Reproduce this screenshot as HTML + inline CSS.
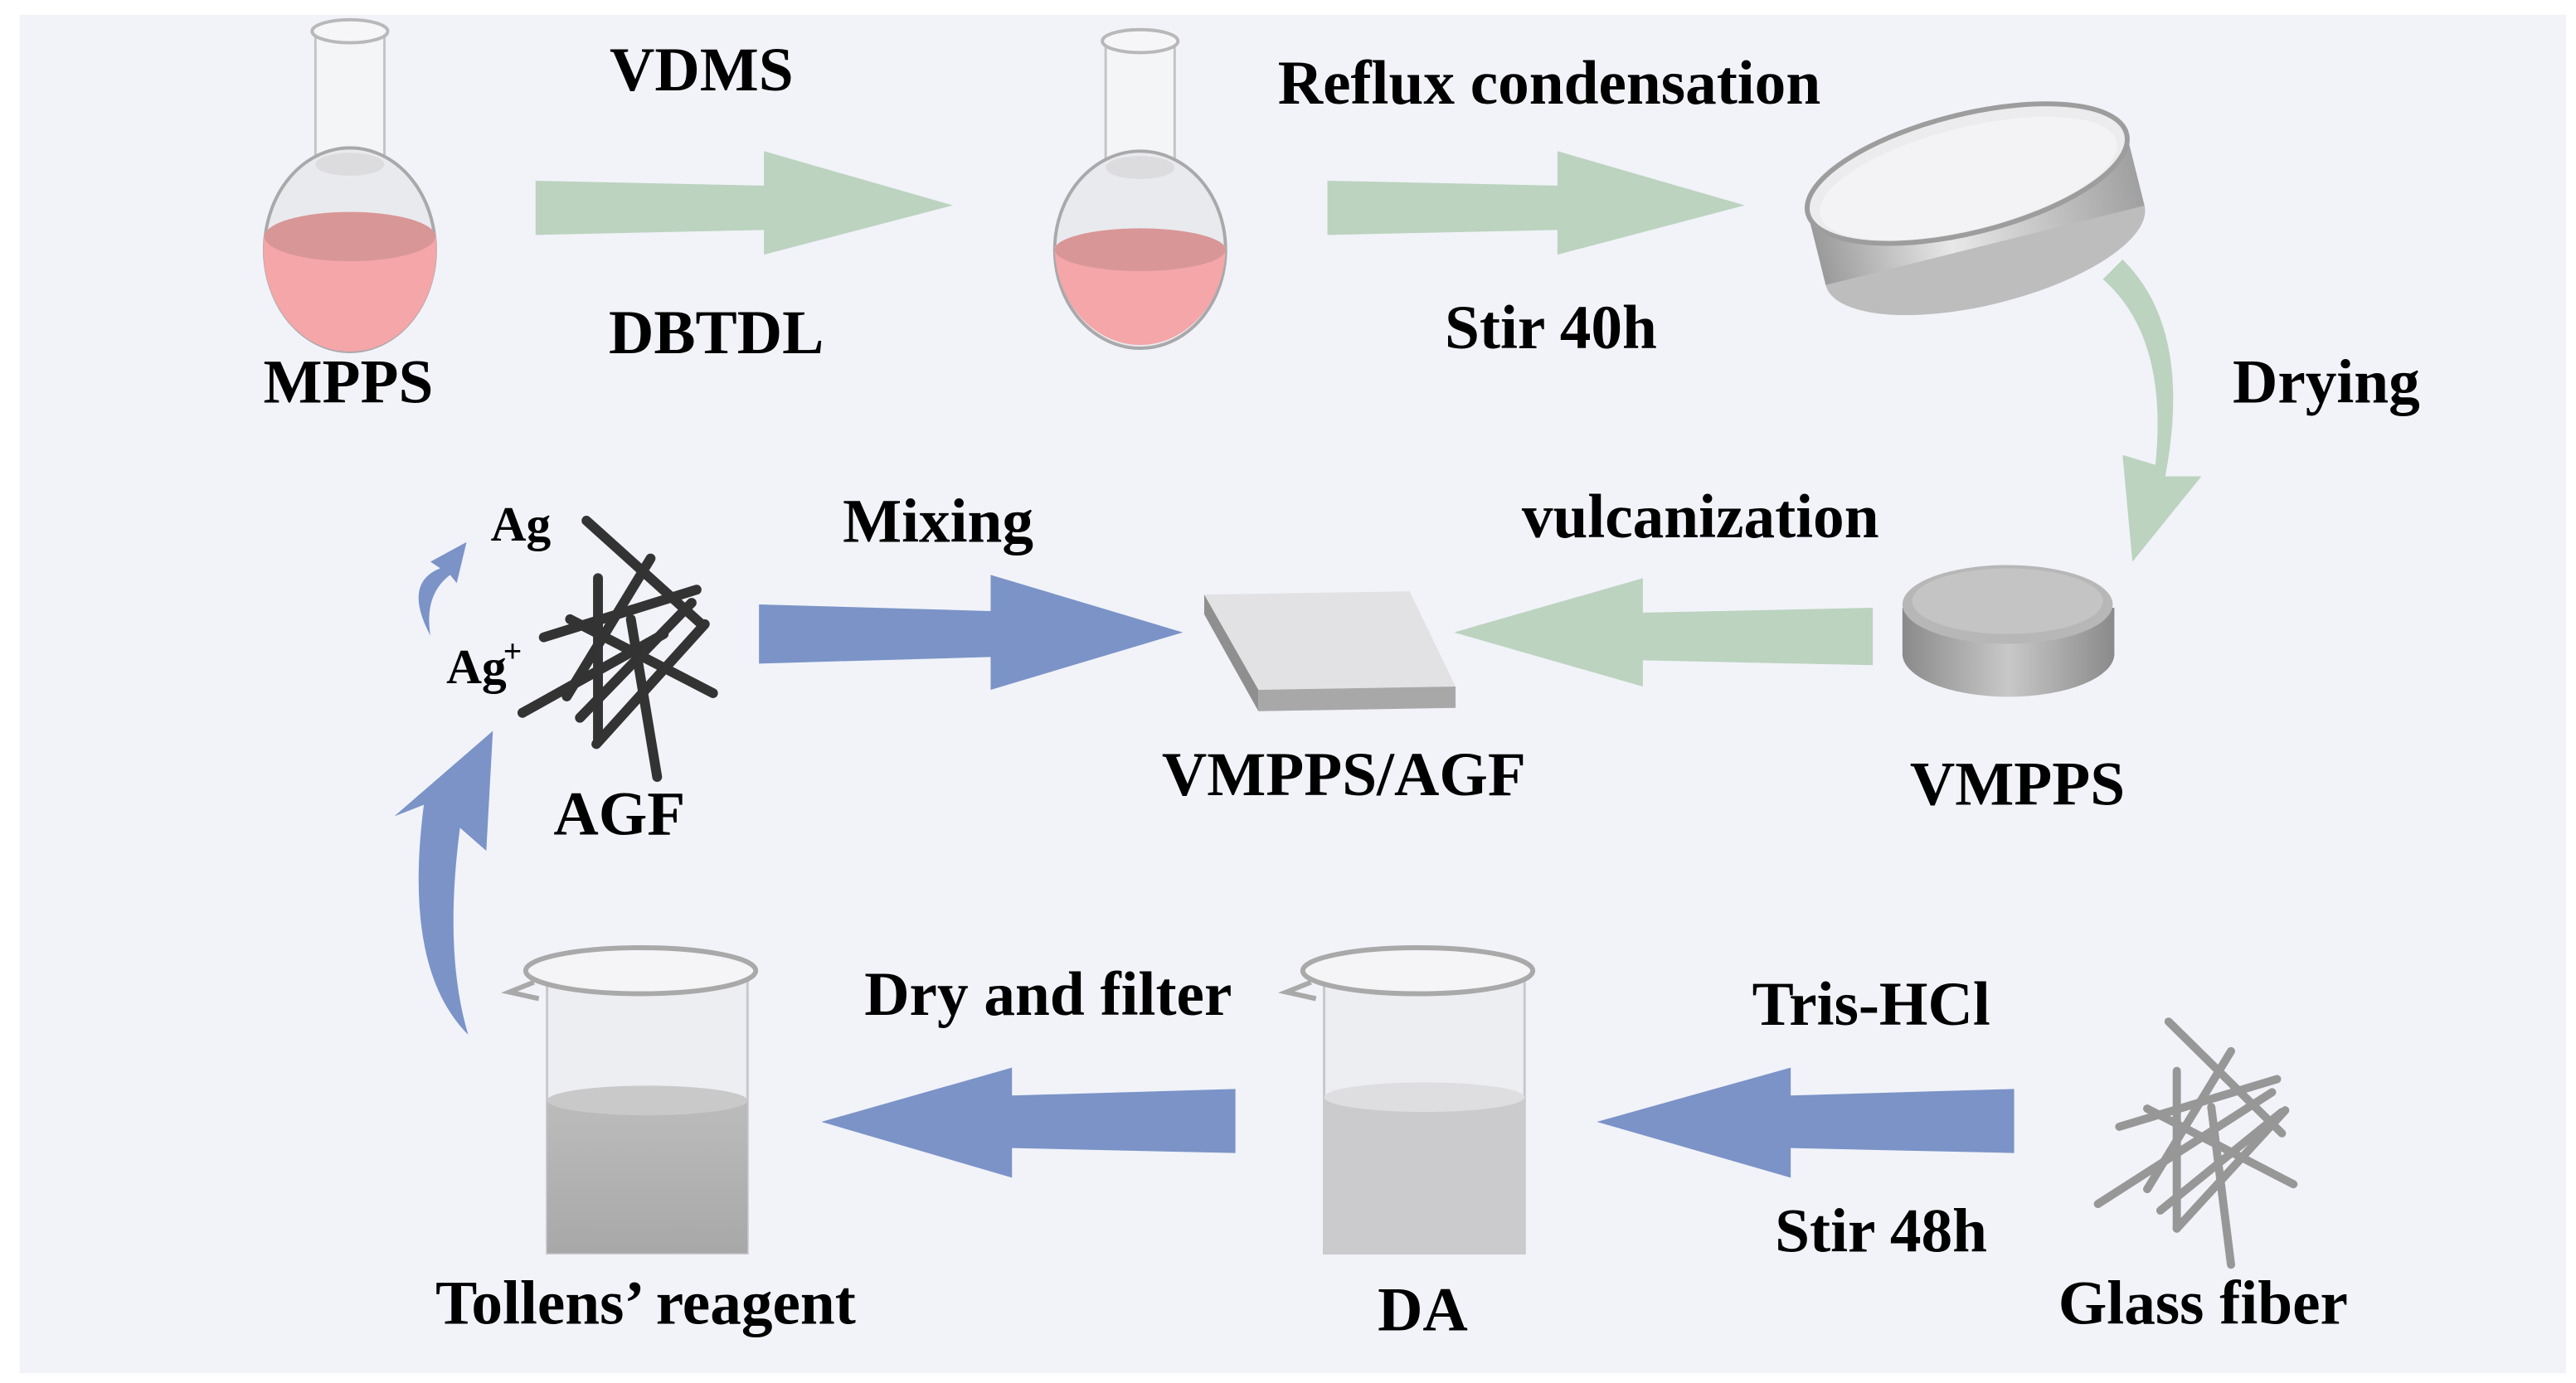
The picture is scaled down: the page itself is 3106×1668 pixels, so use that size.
<!DOCTYPE html>
<html><head><meta charset="utf-8"><style>
html,body{margin:0;padding:0;background:#fff;}
svg{display:block;}
text{font-family:"Liberation Serif",serif;font-weight:bold;fill:#000;}
</style></head><body>
<svg width="3106" height="1668" viewBox="0 0 1568 842" xmlns="http://www.w3.org/2000/svg">
<defs>
<linearGradient id="metal" x1="0" x2="1"><stop offset="0" stop-color="#9a9a9a"/><stop offset="0.4" stop-color="#e8e8e8"/><stop offset="1" stop-color="#a0a0a0"/></linearGradient>
<linearGradient id="disk" x1="0" x2="1"><stop offset="0" stop-color="#8a8a8a"/><stop offset="0.5" stop-color="#c8c8c8"/><stop offset="1" stop-color="#8a8a8a"/></linearGradient>
<linearGradient id="liq" x1="0" x2="0" y1="0" y2="1"><stop offset="0" stop-color="#bdbdbd"/><stop offset="1" stop-color="#a8a8a8"/></linearGradient>
</defs>
<rect x="0" y="0" width="1568" height="842" fill="#ffffff"/>
<rect x="12" y="9" width="1550" height="827" fill="#f1f3f9"/>

<!-- Flask 1 -->
<g>
<rect x="192" y="18" width="42" height="82" fill="#f4f5f7" stroke="#c4c4c6" stroke-width="1.5"/>
<ellipse cx="213" cy="19" rx="23" ry="7" fill="#f6f6f8" stroke="#b8b8ba" stroke-width="2"/>
<ellipse cx="213" cy="152" rx="52" ry="62" fill="#e9eaee" stroke="#a9a9ab" stroke-width="2"/>
<path d="M161,142 A52,62 0 0 0 265,142 Z" fill="#f4a6a8"/>
<path d="M161,142 A52,62 0 0 0 213,214 A52,62 0 0 0 265,142" fill="#f4a6a8"/>
<ellipse cx="213" cy="144" rx="52" ry="15" fill="#d99696"/>
<ellipse cx="213" cy="100" rx="21" ry="7" fill="#dcdcde"/>
</g>
<text x="212" y="245" font-size="38" text-anchor="middle">MPPS</text>

<!-- Flask 2 -->
<g>
<rect x="673" y="24" width="42" height="78" fill="#f4f5f7" stroke="#c4c4c6" stroke-width="1.5"/>
<ellipse cx="694" cy="25" rx="23" ry="7" fill="#f6f6f8" stroke="#b8b8ba" stroke-width="2"/>
<ellipse cx="694" cy="152" rx="52" ry="60" fill="#e9eaee" stroke="#a9a9ab" stroke-width="2"/>
<path d="M642,150 A52,60 0 0 0 746,150 Z" fill="#f4a6a8"/>
<ellipse cx="694" cy="152" rx="52" ry="13" fill="#d99696"/>
<ellipse cx="694" cy="102" rx="21" ry="7" fill="#dcdcde"/>
</g>

<!-- Green arrows top -->
<polygon points="326,110 465,113 465,92 580,125 465,155 465,140 326,143" fill="#bcd3bf"/>
<polygon points="808,110 948,113 948,92 1062,125 948,155 948,140 808,143" fill="#bcd3bf"/>
<text x="427" y="55" font-size="38" text-anchor="middle">VDMS</text>
<text x="436" y="215" font-size="38" text-anchor="middle">DBTDL</text>
<text x="943" y="63" font-size="38" text-anchor="middle">Reflux condensation</text>
<text x="944" y="212" font-size="38" text-anchor="middle">Stir 40h</text>

<!-- Petri dish -->
<g transform="rotate(-14 1203 128)">
<ellipse cx="1203" cy="150" rx="100" ry="36" fill="#bdbdbd"/>
<rect x="1103" y="105" width="200" height="45" fill="url(#metal)"/>
<ellipse cx="1203" cy="105" rx="100" ry="36" fill="#ececee" stroke="#9d9d9d" stroke-width="3"/>
<ellipse cx="1203" cy="108" rx="93" ry="31" fill="#f3f3f5"/>
</g>

<!-- Drying arrow -->
<path d="M1292,158 Q1335,200 1318,290 L1340,290 L1298,342 L1292,277 L1312,283 Q1320,205 1280,170 Z" fill="#bcd3bf"/>
<text x="1416" y="245" font-size="38" text-anchor="middle">Drying</text>

<!-- VMPPS disk -->
<g>
<path d="M1158,370 L1158,398 A64,26 0 0 0 1287,398 L1287,370 Z" fill="url(#disk)"/>
<ellipse cx="1222" cy="368" rx="64" ry="24" fill="#b7b7b7"/>
<ellipse cx="1222" cy="366" rx="58" ry="20" fill="#c4c4c4"/>
</g>
<text x="1228" y="490" font-size="38" text-anchor="middle">VMPPS</text>

<!-- vulcanization arrow -->
<polygon points="1140,370 1000,373 1000,352 885,385 1000,418 1000,402 1140,405" fill="#bcd3bf"/>
<text x="1035" y="327" font-size="38" text-anchor="middle">vulcanization</text>

<!-- Slab -->
<polygon points="733,362 858,360 886,418 766,420" fill="#e2e2e4"/>
<polygon points="733,362 766,420 766,433 733,374" fill="#8f8f8f"/>
<polygon points="766,420 886,418 886,431 766,433" fill="#a8a8a8"/>
<text x="818" y="484" font-size="38" text-anchor="middle">VMPPS/AGF</text>

<!-- Mixing arrow -->
<polygon points="462,368 603,372 603,350 720,385 603,420 603,400 462,404" fill="#7b93c7"/>
<text x="571" y="330" font-size="38" text-anchor="middle">Mixing</text>

<!-- AGF fibers -->
<g stroke="#333" stroke-width="6" stroke-linecap="round">
<line x1="357" y1="317" x2="427" y2="380"/>
<line x1="396" y1="340" x2="345" y2="424"/>
<line x1="364" y1="352" x2="364" y2="451"/>
<line x1="347" y1="377" x2="434" y2="422"/>
<line x1="318" y1="434" x2="404" y2="386"/>
<line x1="353" y1="437" x2="421" y2="367"/>
<line x1="363" y1="453" x2="429" y2="380"/>
<line x1="331" y1="388" x2="424" y2="359"/>
<line x1="384" y1="377" x2="400" y2="473"/>
</g>
<text x="317" y="329" font-size="30" text-anchor="middle">Ag</text>
<text x="290" y="416" font-size="30" text-anchor="middle">Ag</text>
<text x="312" y="403" font-size="20" text-anchor="middle">+</text>
<text x="377" y="508" font-size="38" text-anchor="middle">AGF</text>

<!-- small curved arrow -->
<path d="M262,387 Q245,355 268,346 L262,342 L284,330 L278,355 L274,350 Q258,362 262,387 Z" fill="#7b93c7"/>
<!-- large curved arrow -->
<path d="M285,630 Q245,590 258,490 L240,497 L300,445 L296,518 L280,504 Q270,580 285,630 Z" fill="#7b93c7"/>

<!-- Beaker Tollens -->
<g>
<rect x="333" y="593" width="122" height="170" fill="#eceef2" stroke="#c8c8cc" stroke-width="1.5"/>
<path d="M333,670 Q394,660 455,670 L455,763 L333,763 Z" fill="url(#liq)"/>
<ellipse cx="394" cy="670" rx="61" ry="9" fill="#c9c9c9"/>
<ellipse cx="390" cy="591" rx="70" ry="14" fill="#f5f5f7" stroke="#a9a9a9" stroke-width="3"/>
<path d="M325,598 L310,604 L328,608" fill="none" stroke="#a9a9a9" stroke-width="3"/>
</g>
<text x="393" y="806" font-size="38" text-anchor="middle">Tollens’ reagent</text>

<!-- Beaker DA -->
<g>
<rect x="806" y="593" width="122" height="170" fill="#eceef2" stroke="#c8c8cc" stroke-width="1.5"/>
<path d="M806,668 Q867,660 928,668 L928,763 L806,763 Z" fill="#cbcbcd"/>
<ellipse cx="867" cy="668" rx="61" ry="9" fill="#dedee0"/>
<ellipse cx="863" cy="591" rx="70" ry="14" fill="#f5f5f7" stroke="#a9a9a9" stroke-width="3"/>
<path d="M798,598 L783,604 L801,608" fill="none" stroke="#a9a9a9" stroke-width="3"/>
</g>
<text x="866" y="810" font-size="38" text-anchor="middle">DA</text>

<!-- bottom blue arrows -->
<polygon points="752,663 616,667 616,650 500,683 616,717 616,699 752,702" fill="#7b93c7"/>
<polygon points="1226,663 1090,667 1090,650 972,683 1090,717 1090,699 1226,702" fill="#7b93c7"/>
<text x="638" y="618" font-size="38" text-anchor="middle">Dry and filter</text>
<text x="1139" y="624" font-size="38" text-anchor="middle">Tris-HCl</text>
<text x="1145" y="762" font-size="38" text-anchor="middle">Stir 48h</text>

<!-- Glass fibers -->
<g stroke="#979797" stroke-width="5" stroke-linecap="round">
<line x1="1320" y1="622" x2="1389" y2="690"/>
<line x1="1358" y1="640" x2="1307" y2="724"/>
<line x1="1325" y1="652" x2="1325" y2="748"/>
<line x1="1290" y1="686" x2="1386" y2="657"/>
<line x1="1307" y1="675" x2="1396" y2="721"/>
<line x1="1277" y1="733" x2="1383" y2="665"/>
<line x1="1315" y1="737" x2="1389" y2="677"/>
<line x1="1325" y1="748" x2="1391" y2="676"/>
<line x1="1346" y1="674" x2="1358" y2="770"/>
</g>
<text x="1341" y="806" font-size="38" text-anchor="middle">Glass fiber</text>
</svg>
</body></html>
